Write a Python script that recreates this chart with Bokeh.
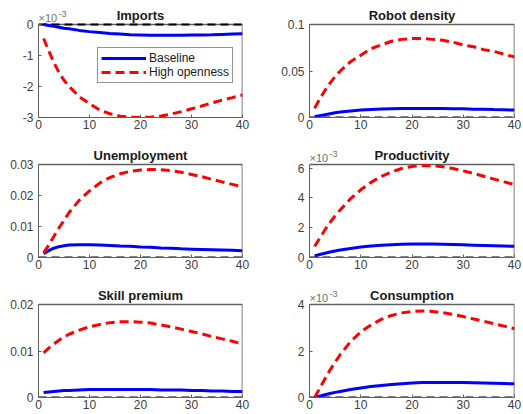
from bokeh.plotting import figure
from bokeh.layouts import column, row
from bokeh.models import Range1d, FixedTicker, Label, Legend, LegendItem
from bokeh.embed import file_html
from bokeh.resources import INLINE

# ---------------- data ----------------
periods = [1, 2, 3, 4, 5, 6, 8, 10, 12, 14, 16, 18, 20, 22, 24, 26, 28, 30, 32, 34, 36, 38, 40]

# Imports (x 1e-3)
imports_base = [0.0, -0.03, -0.06, -0.09, -0.12, -0.14, -0.19, -0.23, -0.26, -0.29, -0.31, -0.33,
                -0.34, -0.35, -0.35, -0.35, -0.345, -0.34, -0.335, -0.33, -0.32, -0.31, -0.30]
imports_high = [-0.45, -0.85, -1.22, -1.55, -1.80, -2.00, -2.33, -2.55, -2.76, -2.88, -2.96, -2.99,
                -3.00, -2.99, -2.95, -2.89, -2.81, -2.72, -2.63, -2.53, -2.44, -2.36, -2.27]
# Robot density
robot_base = [0.001, 0.002, 0.003, 0.004, 0.005, 0.0058, 0.007, 0.008, 0.0087, 0.0092, 0.0095, 0.0097,
              0.0098, 0.0098, 0.0098, 0.0097, 0.0095, 0.0093, 0.009, 0.0088, 0.0085, 0.0083, 0.008]
robot_high = [0.010, 0.020, 0.029, 0.037, 0.044, 0.050, 0.060, 0.067, 0.074, 0.078, 0.082, 0.084,
              0.085, 0.085, 0.084, 0.083, 0.081, 0.078, 0.076, 0.073, 0.071, 0.068, 0.065]
# Unemployment
unemp_base = [0.0012, 0.0022, 0.0030, 0.0035, 0.0038, 0.0040, 0.0041, 0.0041, 0.0040, 0.0039, 0.0037, 0.0036,
              0.0034, 0.0033, 0.0031, 0.0030, 0.0028, 0.0027, 0.0026, 0.0025, 0.0024, 0.0023, 0.0022]
unemp_high = [0.0015, 0.0040, 0.0068, 0.0095, 0.0120, 0.0145, 0.0185, 0.0215, 0.0240, 0.0258, 0.0270, 0.0278,
              0.0282, 0.0284, 0.0283, 0.0280, 0.0275, 0.0268, 0.0261, 0.0252, 0.0244, 0.0236, 0.0228]
# Productivity (x 1e-3)
prod_base = [0.10, 0.20, 0.29, 0.37, 0.44, 0.50, 0.61, 0.70, 0.77, 0.82, 0.86, 0.89,
             0.90, 0.91, 0.90, 0.89, 0.87, 0.85, 0.83, 0.81, 0.79, 0.77, 0.75]
prod_high = [0.75, 1.30, 1.85, 2.35, 2.80, 3.20, 3.95, 4.55, 5.05, 5.45, 5.75, 5.98,
             6.12, 6.18, 6.17, 6.10, 5.98, 5.82, 5.65, 5.46, 5.27, 5.08, 4.90]
# Skill premium
skill_base = [0.0011, 0.0012, 0.0013, 0.0014, 0.0015, 0.0015, 0.0016, 0.0017, 0.0017, 0.0017, 0.0017, 0.0017,
              0.0017, 0.0017, 0.0016, 0.0016, 0.0016, 0.0015, 0.0015, 0.0014, 0.0014, 0.0013, 0.0013]
skill_high = [0.0096, 0.0106, 0.0115, 0.0123, 0.0130, 0.0136, 0.0145, 0.0152, 0.0157, 0.0161, 0.0163, 0.0163,
              0.0162, 0.0160, 0.0156, 0.0152, 0.0147, 0.0142, 0.0137, 0.0131, 0.0126, 0.0121, 0.0115]
# Consumption (x 1e-3)
cons_base = [0.00, 0.06, 0.12, 0.17, 0.22, 0.26, 0.34, 0.41, 0.47, 0.52, 0.56, 0.59,
             0.62, 0.64, 0.65, 0.65, 0.65, 0.64, 0.63, 0.62, 0.61, 0.60, 0.59]
cons_high = [0.00, 0.40, 0.80, 1.18, 1.52, 1.85, 2.40, 2.82, 3.12, 3.36, 3.53, 3.64,
             3.70, 3.72, 3.70, 3.65, 3.57, 3.48, 3.38, 3.28, 3.17, 3.07, 2.96]

x_ticks = [0, 10, 20, 30, 40]
x_labels = ["0", "10", "20", "30", "40"]

FONT = "Liberation Sans"
TICK_COLOR = "#404040"
BOX_COLOR = "#606060"
BOX_H = 93      # box height in px
HEAD = 24       # px above the box kept inside the frame for title / exponent


def panel(title, base, high, y_lo, y_hi, y_ticks, y_labels, left, exp=False, last=False, legend=False):
    if left:
        w, bl, br = 269, 38, 27
    else:
        w, bl, br = 253, 40, 8
    bb = 16 if last else 23
    h = HEAD + BOX_H + bb
    y_top = y_hi + (y_hi - y_lo) * HEAD / BOX_H
    p = figure(width=w, height=h, output_backend="svg", toolbar_location=None, title=None,
               x_range=Range1d(0, 40), y_range=Range1d(y_lo, y_top),
               min_border_left=bl, min_border_right=br, min_border_top=0, min_border_bottom=bb)
    p.grid.visible = False
    p.outline_line_color = None
    p.background_fill_color = "white"
    p.border_fill_color = "white"

    for ax in (p.xaxis[0], p.yaxis[0]):
        ax.axis_line_color = BOX_COLOR
        ax.axis_line_width = 1
        ax.major_tick_in = 3
        ax.major_tick_out = 0
        ax.major_tick_line_color = BOX_COLOR
        ax.minor_tick_line_color = None
        ax.major_label_text_font = FONT
        ax.major_label_text_font_size = "12px"
        ax.major_label_text_color = TICK_COLOR
    p.xaxis[0].ticker = FixedTicker(ticks=x_ticks)
    p.xaxis[0].major_label_overrides = dict(zip(x_ticks, x_labels))
    p.xaxis[0].major_label_standoff = 2
    p.yaxis[0].ticker = FixedTicker(ticks=y_ticks)
    p.yaxis[0].bounds = (y_lo, y_hi)
    p.yaxis[0].major_label_overrides = dict(zip(y_ticks, y_labels))
    p.yaxis[0].major_label_standoff = 5

    # top and right edges of the box
    p.line(x=[0, 40, 40], y=[y_hi, y_hi, y_lo], line_color=BOX_COLOR, line_width=1.6)

    p.line(x=[0, 40], y=[0, 0], line_color="black", line_width=1.8, line_dash="8 5")
    rb = p.line(x=periods, y=base, line_color="#0000ff", line_width=3)
    rh = p.line(x=periods, y=high, line_color="#ff0000", line_width=3, line_dash="9 5")

    p.add_layout(Label(x=20, y=y_hi, y_offset=9, text=title, text_align="center",
                       text_baseline="alphabetic", text_font=FONT, text_font_style="bold",
                       text_font_size="13px", text_color="#1a1a1a"))
    if exp:
        p.add_layout(Label(x=0, y=y_hi, y_offset=7, text="×10", text_baseline="alphabetic",
                           text_font=FONT, text_font_size="11px", text_color="#707070"))
        p.add_layout(Label(x=0, y=y_hi, x_offset=20, y_offset=11, text="-3", text_baseline="alphabetic",
                           text_font=FONT, text_font_size="9px", text_color="#707070"))
    if legend:
        lg = Legend(items=[LegendItem(label="Baseline", renderers=[rb]),
                           LegendItem(label="High openness", renderers=[rh])],
                    location=(59, 34), margin=0, padding=3, spacing=0,
                    glyph_width=45, glyph_height=14, label_height=14, label_standoff=3,
                    label_text_font=FONT, label_text_font_size="12px", label_text_color="#1a1a1a",
                    border_line_color="#262626", border_line_width=1,
                    background_fill_color="white", background_fill_alpha=1)
        p.add_layout(lg, "center")
    return p


p1 = panel("Imports", imports_base, imports_high, -3, 0, [-3, -2, -1, 0], ["-3", "-2", "-1", "0"],
           left=True, exp=True, legend=True)
p2 = panel("Robot density", robot_base, robot_high, 0, 0.1, [0, 0.05, 0.1], ["0", "0.05", "0.1"], left=False)
p3 = panel("Unemployment", unemp_base, unemp_high, 0, 0.03, [0, 0.01, 0.02, 0.03],
           ["0", "0.01", "0.02", "0.03"], left=True)
p4 = panel("Productivity", prod_base, prod_high, 0, 6.25, [0, 2, 4, 6], ["0", "2", "4", "6"],
           left=False, exp=True)
p5 = panel("Skill premium", skill_base, skill_high, 0, 0.02, [0, 0.01, 0.02], ["0", "0.01", "0.02"],
           left=True, last=True)
p6 = panel("Consumption", cons_base, cons_high, 0, 4, [0, 2, 4], ["0", "2", "4"],
           left=False, exp=True, last=True)

layout = column(row(p1, p2, spacing=0), row(p3, p4, spacing=0), row(p5, p6, spacing=0), spacing=0)

open("out.html", "w").write(file_html(layout, INLINE))
